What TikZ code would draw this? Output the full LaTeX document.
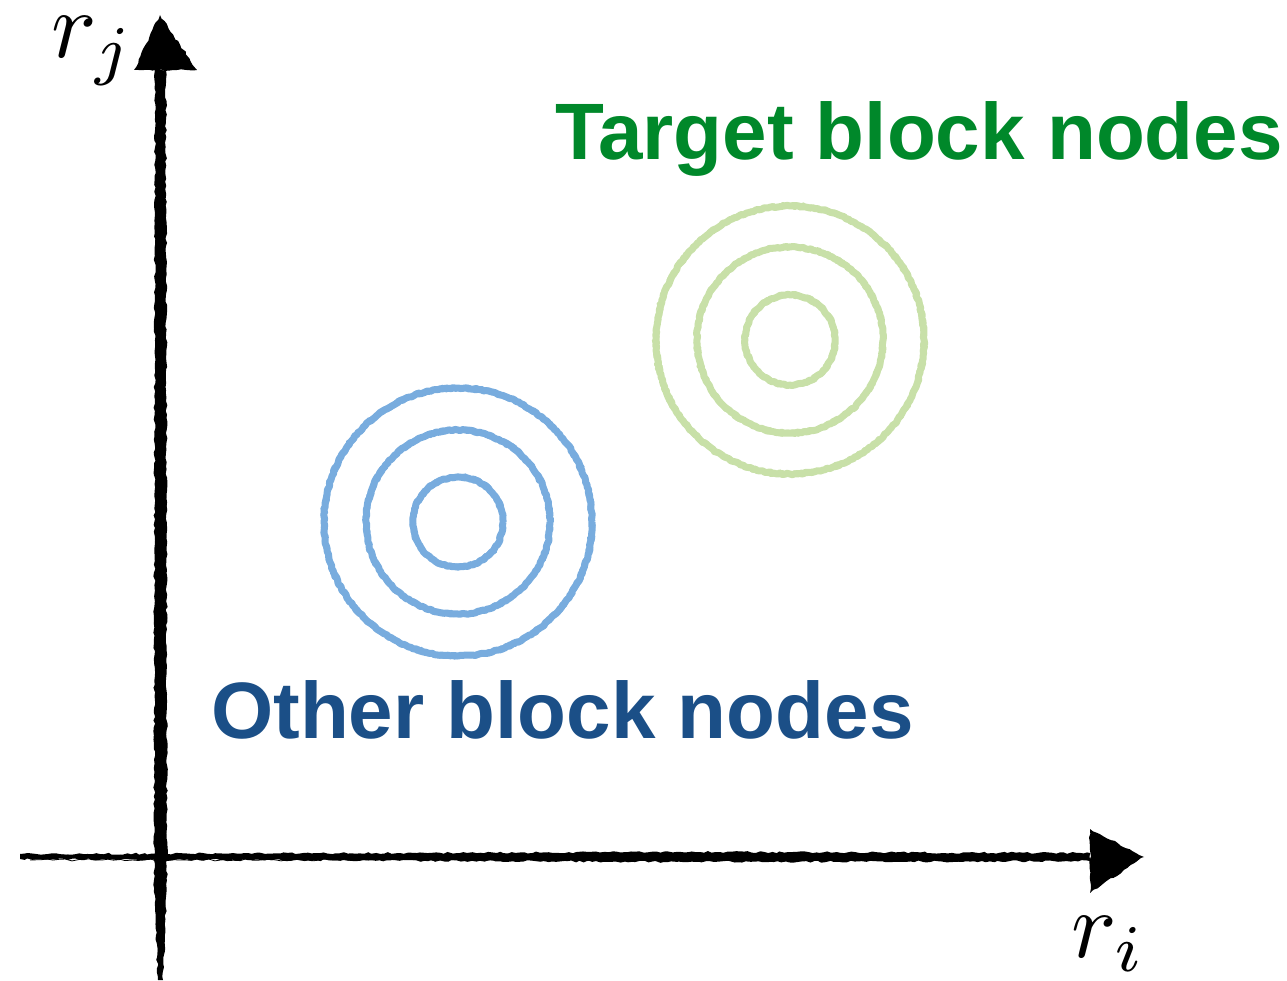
\documentclass[tikz,border=0pt]{standalone}
\usepackage{graphicx}
\usepackage{fontspec}
\newfontfamily\labelfont{Liberation Sans}
\usetikzlibrary{decorations.pathmorphing}
\definecolor{tgreen}{RGB}{0,136,42}
\definecolor{oblue}{RGB}{27,79,135}
\definecolor{lgreen}{RGB}{200,224,168}
\definecolor{lblue}{RGB}{120,172,222}
\begin{document}
\begin{tikzpicture}[x=1pt,y=-1pt,
  ring/.style={line width=7pt, line join=round, decorate,
    decoration={random steps, segment length=2.5pt, amplitude=0.7pt}},
  fuzz/.style={line width=4.5pt, line join=round, decorate,
    decoration={random steps, segment length=3pt, amplitude=2pt}},
  sketch/.style={decorate, decoration={random steps, segment length=4pt, amplitude=1pt}},
  hatch/.style={line width=0.8pt, black, decorate, decoration={random steps, segment length=6pt, amplitude=1.2pt}},
  biglabel/.style={anchor=base west, inner sep=0pt, font=\labelfont\bfseries\fontsize{80}{90}\selectfont},
  axlabel/.style={anchor=base west, inner sep=0pt}]
\useasboundingbox (0,0) rectangle (1287,981);

% named points
\coordinate (origin) at (161,857);
\coordinate (ytip) at (160,15);
\coordinate (xtip) at (1144,857);
\coordinate (gc) at (790,340);
\coordinate (bc) at (458,522);

% vertical axis (tapered, sketchy)
\fill[black, sketch] (155,70) -- (166,70) -- (167,880) -- (163,980) -- (158,980) -- (154,880) -- cycle;
\draw[hatch] (157,75) -- (158,960);
\draw[hatch] (164,75) -- (164,940);
% vertical arrowhead
\fill[black, sketch] (ytip) -- (197,70) -- (134,70) -- cycle;

% horizontal axis
\fill[black, sketch] (20,854) -- (700,852) -- (1090,853) -- (1090,861) -- (700,862) -- (20,859) -- cycle;
\draw[hatch] (25,856) -- (1085,855);
\draw[hatch] (30,860) -- (1080,859);
% horizontal arrowhead
\fill[black, sketch] (1090,829) -- (xtip) -- (1090,893) -- cycle;

% axis labels
\node[axlabel] (rj) at (51,58) {\scalebox{9.5}{$r_j$}};
\node[axlabel] (ri) at (1071,957) {\scalebox{9.5}{$r_i$}};

% target rings
\foreach \r in {134,93,45} {
  \draw[ring, lgreen] (gc) circle[radius=\r pt];
  \draw[fuzz, lgreen] (gc) circle[radius=\r pt];
}

% other rings
\foreach \r in {134,92,45} {
  \draw[ring, lblue] (bc) circle[radius=\r pt];
  \draw[fuzz, lblue] (bc) circle[radius=\r pt];
}

% texts
\node[biglabel, text=tgreen] (target) at (555,160) {Target block nodes};
\node[biglabel, text=oblue] (other) at (211,738) {Other block nodes};
\end{tikzpicture}
\end{document}
